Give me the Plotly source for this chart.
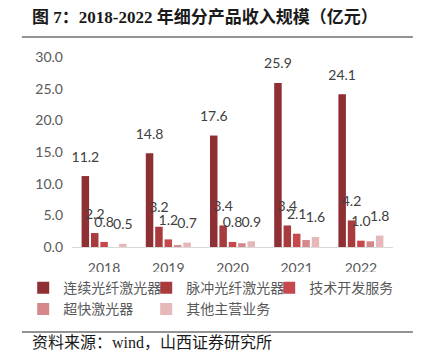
import plotly.graph_objects as go

years = ["2018", "2019", "2020", "2021", "2022"]
series_names = ["连续光纤激光器", "脉冲光纤激光器", "技术开发服务", "超快激光器", "其他主营业务"]
cw_fiber = [11.2, 14.8, 17.6, 25.9, 24.1]
pulse_fiber = [2.2, 3.2, 3.4, 3.4, 4.2]
tech_service = [0.8, 1.2, 0.8, 2.1, 1.0]
ultrafast = [None, 0.3, 0.6, 1.1, 0.9]
other = [0.5, 0.7, 0.9, 1.6, 1.8]
y_ticks = [0, 5, 10, 15, 20, 25, 30]

colors = ["#8E2F33", "#A83B3D", "#C4484C", "#D4888A", "#E6B8B9"]
show_labels = [True, True, True, False, True]
values = [cw_fiber, pulse_fiber, tech_service, ultrafast, other]

fig = go.Figure()
for name, vals, col in zip(series_names, values, colors):
    fig.add_trace(go.Bar(
        x=years, y=vals, name=name, marker_color=col,
        marker_line=dict(width=3, color="rgba(0,0,0,0)"),
    ))

# value labels, grouped like the bars so each sits over its own bar
for name, vals, lab in zip(series_names, values, show_labels):
    fig.add_trace(go.Scatter(
        x=years, y=vals, mode="markers+text", showlegend=False, hoverinfo="skip",
        marker=dict(size=16, color="rgba(0,0,0,0)"),
        text=[f"{v:.1f}" if (v is not None and lab) else "" for v in vals],
        textposition="top center", cliponaxis=False,
        textfont=dict(family="Lato, Liberation Sans, sans-serif", size=14, color="#404040"),
    ))

# page body has an 8px margin, so the figure is sized/offset to compensate
fig.update_layout(
    width=413, height=347,
    margin=dict(l=64, r=28, t=49, b=108),
    paper_bgcolor="white", plot_bgcolor="white",
    barmode="group", bargap=0.27, bargroupgap=0.2,
    scattermode="group", scattergap=0.27,
    showlegend=True,
    legend=dict(
        orientation="h", x=-0.152, y=-0.132, xanchor="left", yanchor="top",
        entrywidth=78, entrywidthmode="pixels", traceorder="normal",
        font=dict(family="Noto Sans CJK SC", size=14, color="#595959"),
        itemwidth=30, tracegroupgap=0,
    ),
    font=dict(family="Lato, Noto Sans CJK SC, sans-serif"),
)
fig.update_yaxes(
    range=[0, 30], tickvals=y_ticks, tickformat=".1f", showgrid=False, zeroline=False,
    showline=False, ticks="", ticklabelstandoff=8,
    tickfont=dict(family="Lato, Liberation Sans, sans-serif", size=14, color="#595959"),
)
fig.update_xaxes(
    showline=True, linecolor="#D9D9D9", linewidth=1, ticks="", showgrid=False,
    ticklabelstandoff=8,
    tickfont=dict(family="Lato, Liberation Sans, sans-serif", size=14, color="#595959"),
)

fig.add_annotation(
    text="<b>图 7：2018-2022 年细分产品收入规模（亿元）</b>",
    xref="paper", yref="paper", x=-0.131, y=1.212, xanchor="left", yanchor="middle",
    showarrow=False, font=dict(family="Liberation Serif, Noto Sans CJK SC", size=17, color="#1a1a1a"),
)
fig.add_annotation(
    text="资料来源：wind，山西证券研究所",
    xref="paper", yref="paper", x=-0.131, y=-0.505, xanchor="left", yanchor="middle",
    showarrow=False, font=dict(family="Liberation Serif, Noto Sans CJK SC", size=16, color="#1a1a1a"),
)
fig.add_shape(type="line", xref="paper", yref="paper", x0=-0.156, x1=1.062, y0=1.105, y1=1.105,
              line=dict(color="#6F6F6F", width=1.5), layer="above")
fig.add_shape(type="line", xref="paper", yref="paper", x0=-0.156, x1=1.062, y0=-0.447, y1=-0.447,
              line=dict(color="#6F6F6F", width=1.5), layer="above")

fig.write_html("out.html")
